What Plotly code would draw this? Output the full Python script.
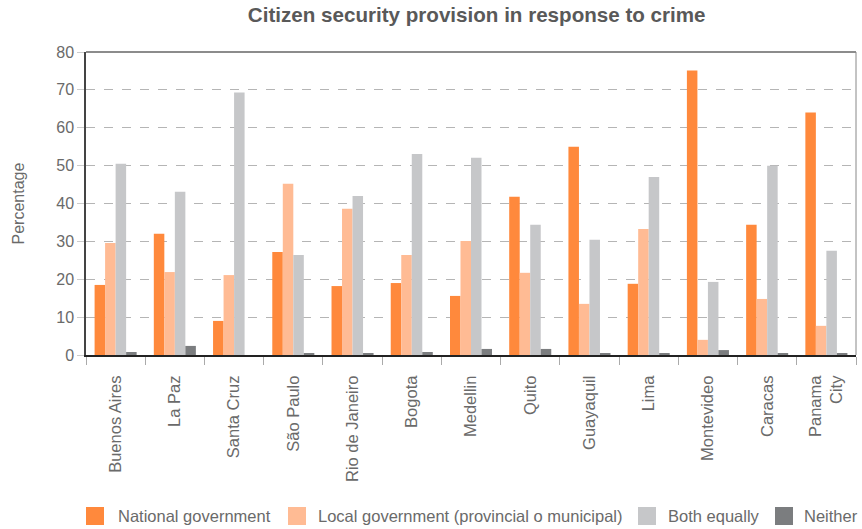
import plotly.graph_objects as go

cities = ["Buenos Aires", "La Paz", "Santa Cruz", "São Paulo", "Rio de Janeiro", "Bogota",
          "Medellin", "Quito", "Guayaquil", "Lima", "Montevideo", "Caracas", "Panama<br>City"]
national = [18.5, 32.0, 9.0, 27.2, 18.2, 19.0, 15.6, 41.8, 55.0, 18.8, 75.1, 34.4, 64.0]
local = [29.6, 21.9, 21.1, 45.2, 38.6, 26.4, 30.1, 21.7, 13.5, 33.3, 4.0, 14.8, 7.7]
both = [50.5, 43.1, 69.3, 26.4, 42.0, 53.1, 52.1, 34.4, 30.4, 47.0, 19.3, 50.0, 27.5]
neither = [0.8, 2.4, 0.0, 0.5, 0.5, 0.8, 1.6, 1.6, 0.3, 0.3, 1.3, 0.3, 0.3]

series_names = ["National government", "Local government (provincial o municipal)",
                "Both equally", "Neither"]
series_values = [national, local, both, neither]
series_colors = ["#FF893C", "#FFBB94", "#C6C7C9", "#7B7D7F"]

# plot area geometry (pixels)
L, R, T, B, W, H = 86, 6, 52, 174, 862, 529
PW, PH = W - L - R, H - T - B


def px_x(p):
    return (p - L) / PW


def px_y(p):
    return (H - B - p) / PH


fig = go.Figure()
for name, vals, col in zip(series_names, series_values, series_colors):
    fig.add_trace(go.Bar(x=cities, y=vals, name=name, showlegend=False,
                         marker=dict(color=col, line=dict(width=0))))

font = "Liberation Sans, Arial, sans-serif"
txt = "#6A6A6A"

# custom legend (swatch + label) along the bottom
swatch_left = [86, 288, 638, 775]
label_left = [116, 316, 666, 802]
legend_y = 516
annotations = [dict(text="Percentage", xref="paper", yref="paper", x=px_x(18), y=0.5,
                    textangle=-90, showarrow=False, xanchor="center", yanchor="middle",
                    font=dict(size=16, color=txt))]
for name, col, sx, lx in zip(series_names, series_colors, swatch_left, label_left):
    fig.add_shape(type="rect", xref="paper", yref="paper",
                  x0=px_x(sx), x1=px_x(sx + 18), y0=px_y(legend_y - 9), y1=px_y(legend_y + 9),
                  fillcolor=col, line=dict(width=0))
    annotations.append(dict(text=name, xref="paper", yref="paper", x=px_x(lx), y=px_y(legend_y),
                            showarrow=False, xanchor="left", yanchor="middle",
                            font=dict(size=16.5, color=txt)))

fig.update_layout(
    width=W, height=H,
    barmode="group", bargap=0.29, bargroupgap=0,
    plot_bgcolor="white", paper_bgcolor="white",
    margin=dict(l=L, r=R, t=T, b=B),
    font=dict(family=font, color=txt, size=16),
    showlegend=False,
    title=dict(text="<b>Citizen security provision in response to crime</b>",
               x=0.553, xanchor="center", y=0.972, yanchor="middle",
               font=dict(size=20.6, color="#595959")),
    xaxis=dict(range=[-0.5, len(cities) - 0.5], tickangle=-90, tickson="boundaries",
               ticks="outside", ticklen=8,
               tickcolor="#AAAAAA", showline=True, linecolor="#222222", linewidth=2,
               mirror=False, automargin=False, ticklabelstandoff=12,
               tickfont=dict(size=16.5, color=txt)),
    yaxis=dict(range=[0, 80], dtick=10, showgrid=True, gridcolor="#B5B5B5",
               griddash="dash", gridwidth=1, ticks="outside", ticklen=7, tickcolor="#CCCCCC",
               showline=True, linecolor="#444444", linewidth=1.5, zeroline=False,
               automargin=False, tickfont=dict(size=16, color=txt)),
    annotations=annotations,
)
# top and right borders
fig.add_shape(type="line", xref="paper", yref="paper", x0=0, x1=1, y0=1, y1=1,
              line=dict(color="#666666", width=1.5))
fig.add_shape(type="line", xref="paper", yref="paper", x0=1, x1=1, y0=0, y1=1,
              line=dict(color="#888888", width=1))

fig.write_html("out.html", config={"displayModeBar": False},
               post_script="document.body.style.margin='0';")
